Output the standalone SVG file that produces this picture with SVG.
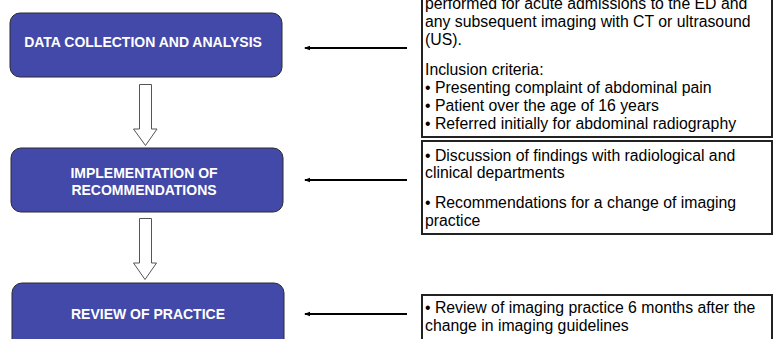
<svg xmlns="http://www.w3.org/2000/svg" width="773" height="339" viewBox="0 0 773 339">
<defs>
<style>
.step{fill:#4349A8;stroke:#2a2a2a;stroke-width:1}
.stxt{font-family:"Liberation Sans",Arial,sans-serif;font-weight:bold;font-size:14px;fill:#ffffff;text-anchor:middle}
.note{fill:#ffffff;stroke:#222;stroke-width:2}
.ntxt{font-family:"Liberation Sans",Arial,sans-serif;font-size:15.8px;fill:#000}
.hollow{fill:#ffffff;stroke:#555;stroke-width:1}
.conn{stroke:#000;stroke-width:2;fill:none;marker-end:url(#ah)}
</style>
<marker id="ah" markerWidth="6" markerHeight="6" refX="5" refY="3" orient="auto" markerUnits="userSpaceOnUse">
<path d="M0,0.8 L6,3 L0,5.2 Z" fill="#000"/>
</marker>
</defs>
<rect width="773" height="339" fill="#ffffff"/>
<g id="step1">
<rect class="step" x="10" y="13" width="272" height="64" rx="10"/>
<text class="stxt" x="143" y="47">DATA COLLECTION AND ANALYSIS</text>
</g>
<g id="step2">
<rect class="step" x="11" y="148" width="272" height="64" rx="10"/>
<text class="stxt" x="144" y="178">IMPLEMENTATION OF</text>
<text class="stxt" x="144" y="195">RECOMMENDATIONS</text>
</g>
<g id="step3">
<rect class="step" x="12" y="283" width="272" height="70" rx="10"/>
<text class="stxt" x="148" y="319">REVIEW OF PRACTICE</text>
</g>
<g id="note1">
<rect class="note" x="422" y="-10" width="350" height="147"/>
<text class="ntxt" x="425" y="9">performed for acute admissions to the ED and</text>
<text class="ntxt" x="425" y="27">any subsequent imaging with CT or ultrasound</text>
<text class="ntxt" x="425" y="45">(US).</text>
<text class="ntxt" x="425" y="75">Inclusion criteria:</text>
<text class="ntxt" x="425" y="93">• Presenting complaint of abdominal pain</text>
<text class="ntxt" x="425" y="111">• Patient over the age of 16 years</text>
<text class="ntxt" x="425" y="129">• Referred initially for abdominal radiography</text>
</g>
<g id="note2">
<rect class="note" x="422" y="141" width="350" height="93"/>
<text class="ntxt" x="425" y="161">• Discussion of findings with radiological and</text>
<text class="ntxt" x="425" y="178">clinical departments</text>
<text class="ntxt" x="425" y="208">• Recommendations for a change of imaging</text>
<text class="ntxt" x="425" y="226">practice</text>
</g>
<g id="note3">
<rect class="note" x="422" y="295" width="350" height="60"/>
<text class="ntxt" x="425" y="313">• Review of imaging practice 6 months after the</text>
<text class="ntxt" x="425" y="331">change in imaging guidelines</text>
</g>
<g id="connectors">
<path class="hollow" d="M139.5,84.5 H151.5 V129 H157 L145.5,145.5 L133.5,129 H139.5 Z"/>
<path class="hollow" d="M139.5,218.5 H151.5 V263 H156.5 L145,279.5 L133.5,263 H139.5 Z"/>
<line class="conn" x1="407" y1="48" x2="305" y2="48"/>
<line class="conn" x1="407" y1="180" x2="305" y2="180"/>
<line class="conn" x1="407" y1="314" x2="305" y2="314"/>
</g>
</svg>
